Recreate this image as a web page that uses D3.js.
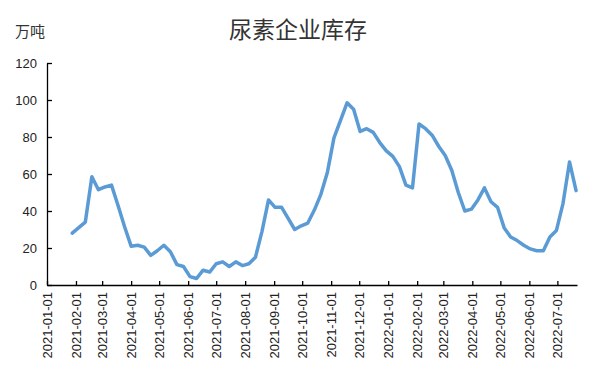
<!DOCTYPE html>
<html>
<head>
<meta charset="utf-8">
<script src="https://cdn.jsdelivr.net/npm/d3@7"></script>
<style>
  body { margin: 0; background: #fff; }
  svg { display: block; font-family: "Liberation Sans", Arial, sans-serif; }
</style>
</head>
<body>
<div id="chart"></div>
<script>
// Weekly urea inventory at producers (万吨), one value per Thursday.
const firstDate = "2021-01-28";
const inventory = [
  28, 31, 34, 58.5, 51.5, 53, 54, 43, 31.5, 21,
  21.5, 20.5, 16, 18.5, 21.5, 18, 11, 10, 4.5, 3.5,
  8, 7, 11.5, 12.5, 10, 12.5, 10.5, 11.5, 15, 29,
  46, 42, 42, 36, 30, 32, 33.5, 40.5, 49, 61,
  79.5, 89, 98.5, 95, 83, 84.5, 82.5, 77, 72.5, 69.5,
  64, 54, 52.5, 87, 84.5, 81, 75, 70, 62, 50,
  40, 41, 46, 52.5, 45, 42, 31, 26, 24, 21.5,
  19.5, 18.5, 18.5, 26, 29.5, 44, 66.5, 51
];
const yTicks = [0, 20, 40, 60, 80, 100, 120];
const axisStart = "2021-01-01";
const axisEnd = "2022-07-22";
const title = "尿素企业库存";
const unit = "万吨";

const width = 596, height = 376;
const margin = {top: 63, right: 19, bottom: 91, left: 47};

const parse = d3.timeParse("%Y-%m-%d");
const fmt = d3.timeFormat("%Y-%m-%d");
const start = parse(firstDate);
const data = inventory.map((v, i) => ({date: d3.timeDay.offset(start, 7 * i), value: v}));

const svg = d3.select("#chart").append("svg")
    .attr("width", width)
    .attr("height", height)
    .attr("viewBox", [0, 0, width, height]);

const x = d3.scaleTime()
    .domain([parse(axisStart), parse(axisEnd)])
    .range([margin.left, width - margin.right]);

const y = d3.scaleLinear()
    .domain([0, 120])
    .range([height - margin.bottom, margin.top]);

// Title and unit label.
svg.append("text")
    .attr("x", 298)
    .attr("y", 38)
    .attr("text-anchor", "middle")
    .attr("font-family", "'Noto Sans CJK SC', sans-serif")
    .attr("font-size", 23)
    .attr("fill", "#333")
    .text(title);

svg.append("text")
    .attr("x", 15)
    .attr("y", 37)
    .attr("font-family", "'Noto Sans CJK SC', sans-serif")
    .attr("font-size", 15)
    .attr("fill", "#333")
    .text(unit);

// Y axis, ticks pointing inwards.
const yAxis = svg.append("g")
    .attr("transform", `translate(${margin.left},0)`)
    .call(d3.axisRight(y).tickValues(yTicks).tickSize(5).tickSizeOuter(0).tickFormat(d3.format("d")));
yAxis.select(".domain").attr("stroke", "#000").attr("stroke-width", 1.3);
yAxis.selectAll(".tick line").attr("stroke", "#000").attr("stroke-width", 1.3);
yAxis.selectAll(".tick text")
    .attr("x", -10)
    .attr("text-anchor", "end")
    .attr("font-size", 13)
    .attr("fill", "#222");

// X axis, monthly ticks with rotated date labels.
const months = d3.timeMonth.range(parse(axisStart), parse("2022-07-02"));
const xAxis = svg.append("g")
    .attr("transform", `translate(0,${height - margin.bottom})`)
    .call(d3.axisTop(x).tickValues(months).tickSize(4).tickSizeOuter(0).tickFormat(fmt));
xAxis.select(".domain").attr("stroke", "#000").attr("stroke-width", 1.3);
xAxis.selectAll(".tick line").attr("stroke", "#000").attr("stroke-width", 1.3);
xAxis.selectAll(".tick text")
    .attr("transform", "rotate(-90)")
    .attr("x", -7)
    .attr("y", 0)
    .attr("dy", "0.35em")
    .attr("text-anchor", "end")
    .attr("font-size", 13)
    .attr("fill", "#222");

// The inventory line.
const line = d3.line()
    .x(d => x(d.date))
    .y(d => y(d.value));

svg.append("path")
    .datum(data)
    .attr("fill", "none")
    .attr("stroke", "#5B9BD5")
    .attr("stroke-width", 3.5)
    .attr("stroke-linejoin", "round")
    .attr("stroke-linecap", "round")
    .attr("d", line);
</script>
</body>
</html>
